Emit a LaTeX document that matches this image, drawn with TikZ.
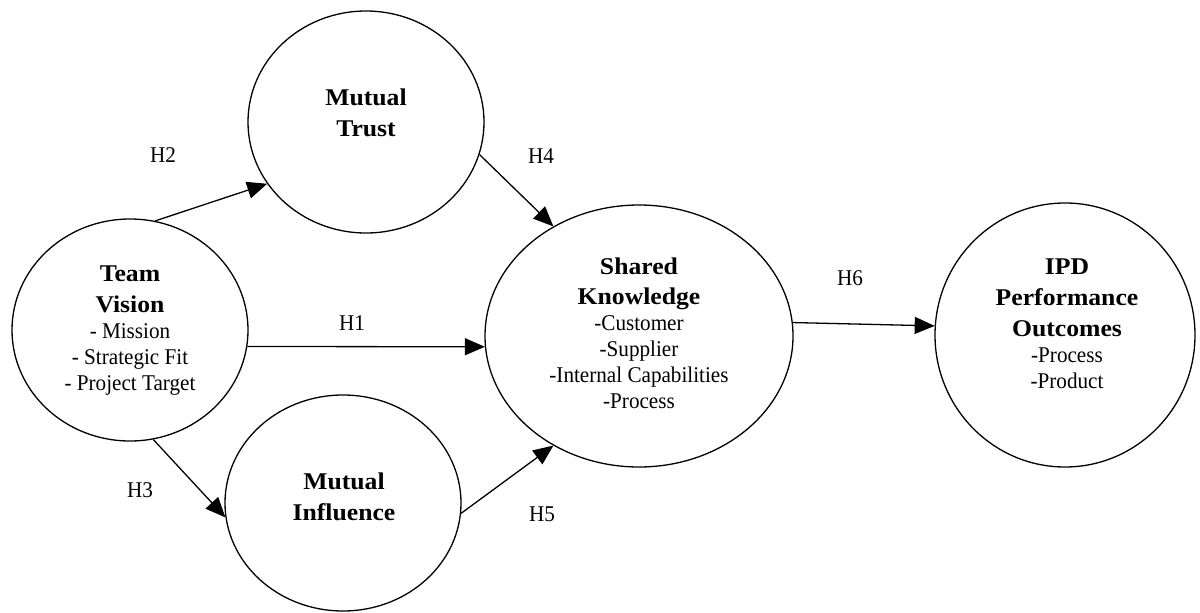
\documentclass[tikz,border=0pt]{standalone}
\usepackage{fontspec}
\setmainfont{Liberation Serif}
\newfontfamily\bodyfont{Liberation Serif}[FakeStretch=0.94]
\newfontfamily\headfont{Liberation Serif}[FakeStretch=1.07]
\usetikzlibrary{shapes.geometric,arrows.meta}
% bold heading line inside a construct
\newcommand*\conhead[1]{{\headfont\bfseries\fontsize{24}{26}\selectfont #1}}
\begin{document}
\begin{tikzpicture}[x=1pt,y=-1pt,
  construct/.style={draw, ellipse, line width=1.3pt, inner sep=0pt},
  blocktext/.style={align=center, inner sep=0pt, font=\bodyfont\fontsize{22.5}{26}\selectfont},
  link/.style={line width=1.3pt, -{Triangle[length=20pt,width=17pt]}},
  hyp/.style={inner sep=0pt, font=\bodyfont\fontsize{22.5}{26}\selectfont}]
\fill[white] (0,0) rectangle (1200,613);
\useasboundingbox (0,0) rectangle (1200,613);

% constructs
\node[construct, minimum width=236pt, minimum height=222pt] (tv)  at (130,330)  {};
\node[construct, minimum width=236pt, minimum height=222pt] (mt)  at (366,122)  {};
\node[construct, minimum width=236pt, minimum height=216pt] (mi)  at (343,503)  {};
\node[construct, minimum width=308pt, minimum height=262pt] (sk)  at (639,336)  {};
\node[construct, minimum width=260pt, minimum height=264pt] (ipd) at (1065,335) {};

% construct contents
\node[blocktext] (tvtext) at (130,331)
  {\conhead{Team}\\[5pt]\conhead{Vision}\\- Mission\\- Strategic Fit\\- Project Target};
\node[blocktext] (mttext) at (366,113) {\conhead{Mutual}\\[5pt]\conhead{Trust}};
\node[blocktext] (mitext) at (344,497) {\conhead{Mutual}\\[5pt]\conhead{Influence}};
\node[blocktext] (sktext) at (639,333)
  {\conhead{Shared}\\[4pt]\conhead{Knowledge}\\-Customer\\-Supplier\\-Internal Capabilities\\-Process};
\node[blocktext] (ipdtext) at (1067,324)
  {\conhead{IPD}\\[5pt]\conhead{Performance}\\[5pt]\conhead{Outcomes}\\-Process\\-Product};

% hypothesised paths
\draw[link] (tv.77)  -- (mt.212);
\draw[link] (tv.-8)  -- (sk.184);
\draw[link] (tv.-78) -- (mi.187);
\draw[link] (mt.-16) -- (sk.128);
\draw[link] (mi.-5)  -- (sk.232);
\draw[link] (sk.5)   -- (ipd.176);

% hypothesis labels
\node[hyp] (h1) at (352,323) {H1};
\node[hyp] (h2) at (163,155) {H2};
\node[hyp] (h3) at (140,490) {H3};
\node[hyp] (h4) at (541,156) {H4};
\node[hyp] (h5) at (542,514) {H5};
\node[hyp] (h6) at (850,278) {H6};
\end{tikzpicture}
\end{document}
